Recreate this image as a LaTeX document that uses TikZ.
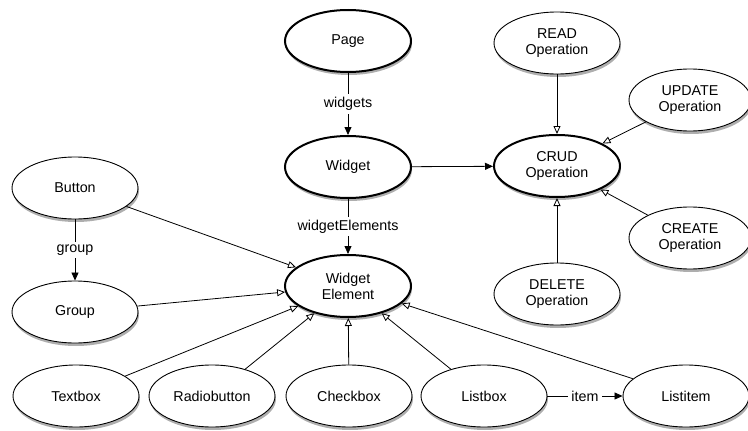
\documentclass[tikz,border=0pt]{standalone}
\usepackage{fontspec}
\setmainfont{Liberation Sans}
\usetikzlibrary{shapes.geometric,arrows.meta,shadows}
\tikzset{
  ent/.style={ellipse, draw=black, fill=white, line width=0.9pt, minimum width=126pt, minimum height=62pt, inner sep=0pt, align=center, font=\fontsize{14.3}{16}\selectfont,
     drop shadow={shadow xshift=1pt, shadow yshift=-3pt, opacity=0.45, fill=black!70}},
  main/.style={ent, line width=2pt},
  isa/.style={line width=0.8pt, -{Triangle[open, length=8pt, width=7pt, fill=white]}},
  rel/.style={line width=0.8pt, -{Triangle[length=8pt, width=7pt]}},
  lbl/.style={fill=white, inner sep=3pt, font=\fontsize{14.3}{16}\selectfont}
}
\begin{document}
\begin{tikzpicture}[x=1pt,y=-1pt]
\useasboundingbox (0,0) rectangle (748,431);
% main nodes
\node[main] (page) at (348,41) {Page};
\node[main] (widget) at (348,167) {Widget};
\node[main] (we) at (348,286) {Widget\\Element};
\node[main] (crud) at (557,166) {CRUD\\Operation};
% operations
\node[ent] (read) at (557,43) {READ\\Operation};
\node[ent, minimum width=122pt] (update) at (690,100) {UPDATE\\Operation};
\node[ent, minimum width=122pt] (create) at (690,238) {CREATE\\Operation};
\node[ent] (delete) at (557,294) {DELETE\\Operation};
% left and bottom
\node[ent] (button) at (75,188) {Button};
\node[ent] (group) at (75,312) {Group};
\node[ent] (textbox) at (76,396) {Textbox};
\node[ent] (radio) at (212,396) {Radiobutton};
\node[ent] (check) at (349,396) {Checkbox};
\node[ent] (listbox) at (484,396) {Listbox};
\node[ent] (listitem) at (686,396) {Listitem};
% relations
\draw[rel] (page) -- node[lbl] {widgets} (widget);
\draw[rel] (widget) -- node[lbl] {widgetElements} (we);
\draw[rel] (button) -- node[lbl] {group} (group);
\draw[rel] (listbox) -- node[lbl] {item} (listitem);
\draw[rel] (widget) -- (crud);
% inheritance
\draw[isa] (read) -- (crud);
\draw[isa] (update) -- (crud);
\draw[isa] (create) -- (crud);
\draw[isa] (delete) -- (crud);
\draw[isa] (button) -- (we);
\draw[isa] (group) -- (we);
\draw[isa] (textbox) -- (we);
\draw[isa] (radio) -- (we);
\draw[isa] (check) -- (we);
\draw[isa] (listbox) -- (we);
\draw[isa] (listitem) -- (we);
\end{tikzpicture}
\end{document}
